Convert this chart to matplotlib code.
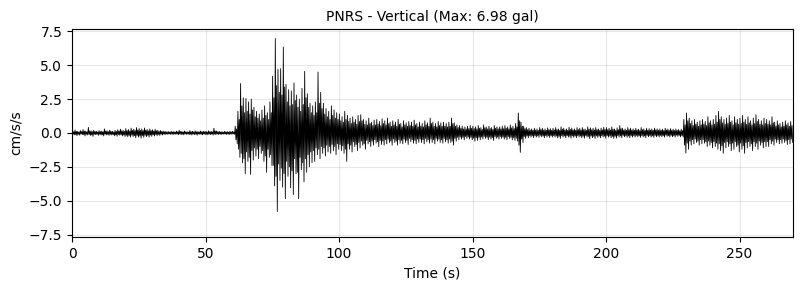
import numpy as np
import matplotlib
matplotlib.use("Agg")
import matplotlib.pyplot as plt

# Per-second upper peaks and lower troughs (cm/s/s)
upper = [
    0.15,0.22,0.12,0.18,0.25,0.14,0.42,0.16,0.2,0.13,
    0.18,0.14,0.3,0.16,0.21,0.12,0.19,0.24,0.28,0.2,
    0.32,0.25,0.36,0.28,0.4,0.33,0.3,0.37,0.26,0.3,
    0.24,0.28,0.2,0.18,0.15,0.12,0.1,0.13,0.11,0.14,
    0.2,0.12,0.15,0.1,0.18,0.13,0.16,0.12,0.15,0.14,
    0.13,0.16,0.12,0.35,0.15,0.12,0.1,0.12,0.11,0.13,
    0.12,0.5,1.6,3.65,2.6,2.55,2.3,2.5,1.9,1.6,
    1.4,1.7,2.0,1.5,2.3,4.2,6.98,4.7,4.75,6.35,
    3.6,3.2,3.1,3.7,2.8,2.5,3.3,4.55,2.9,2.2,
    2.0,2.3,4.5,3.0,2.2,1.8,1.6,2.0,1.7,1.5,
    1.4,1.2,1.6,1.3,1.1,1.2,1.0,1.3,1.35,1.0,
    0.9,1.1,0.8,0.95,1.0,0.85,1.05,0.9,1.1,0.8,
    0.9,0.8,1.0,0.7,0.9,0.75,0.85,0.8,0.95,0.7,
    0.8,0.7,0.9,0.75,1.1,0.8,0.7,0.85,0.75,0.8,
    0.7,0.8,1.1,0.75,0.6,0.55,0.5,0.45,0.5,0.55,
    0.5,0.45,0.55,0.4,0.6,0.45,0.5,0.4,0.55,0.45,
    0.45,0.5,0.55,0.45,0.6,0.5,0.7,1.48,0.8,0.5,
    0.4,0.35,0.3,0.35,0.3,0.4,0.35,0.3,0.38,0.32,
    0.35,0.4,0.3,0.45,0.35,0.3,0.42,0.36,0.3,0.4,
    0.35,0.4,0.3,0.45,0.38,0.35,0.4,0.3,0.36,0.42,
    0.4,0.35,0.45,0.3,0.38,0.55,0.35,0.3,0.4,0.35,
    0.3,0.35,0.28,0.4,0.3,0.35,0.32,0.3,0.36,0.3,
    0.3,0.28,0.35,0.3,0.32,0.28,0.3,0.25,0.28,1.0,
    1.48,1.1,0.9,1.0,0.8,0.9,1.0,0.85,1.2,0.9,
    1.0,1.3,1.6,1.2,1.0,1.1,1.3,0.9,1.2,1.0,
    1.1,1.3,1.0,1.2,0.9,1.1,1.35,1.0,0.9,1.1,
    1.0,0.9,1.2,0.8,0.9,0.7,0.8,0.9,0.75,0.85,
]
lower = [
    -0.14,-0.2,-0.16,-0.12,-0.22,-0.15,-0.18,-0.25,-0.13,-0.17,
    -0.16,-0.22,-0.14,-0.18,-0.15,-0.2,-0.24,-0.17,-0.22,-0.26,
    -0.28,-0.3,-0.26,-0.35,-0.3,-0.38,-0.32,-0.27,-0.3,-0.25,
    -0.22,-0.2,-0.18,-0.15,-0.13,-0.11,-0.1,-0.12,-0.1,-0.13,
    -0.12,-0.14,-0.1,-0.13,-0.15,-0.12,-0.16,-0.11,-0.14,-0.12,
    -0.14,-0.12,-0.15,-0.13,-0.11,-0.12,-0.1,-0.11,-0.12,-0.1,
    -0.1,-0.8,-1.8,-2.2,-3.0,-2.1,-3.05,-2.0,-1.7,-1.9,
    -1.5,-2.1,-2.9,-1.8,-2.4,-3.9,-5.8,-3.5,-4.0,-4.85,
    -3.2,-4.05,-4.55,-3.0,-4.85,-2.7,-3.6,-2.9,-2.5,-2.2,
    -2.1,-1.6,-1.9,-1.5,-1.7,-1.4,-1.5,-1.3,-1.6,-1.2,
    -1.3,-1.5,-2.1,-1.2,-1.4,-1.0,-1.3,-1.1,-0.9,-1.2,
    -0.8,-1.0,-0.9,-0.75,-1.0,-0.85,-0.9,-0.8,-0.7,-0.9,
    -0.7,-0.9,-0.75,-0.8,-0.7,-0.85,-0.65,-0.75,-0.8,-0.7,
    -0.7,-0.8,-0.65,-0.75,-0.7,-0.8,-0.6,-0.7,-0.75,-0.65,
    -0.75,-0.7,-0.9,-0.6,-0.5,-0.45,-0.5,-0.4,-0.45,-0.5,
    -0.6,-0.55,-0.5,-0.45,-0.4,-0.5,-0.45,-0.55,-0.4,-0.45,
    -0.4,-0.45,-0.5,-0.4,-0.5,-0.55,-0.6,-1.43,-0.7,-0.4,
    -0.35,-0.3,-0.35,-0.3,-0.32,-0.28,-0.35,-0.3,-0.33,-0.3,
    -0.3,-0.35,-0.4,-0.3,-0.35,-0.3,-0.38,-0.32,-0.35,-0.3,
    -0.35,-0.38,-0.3,-0.42,-0.35,-0.4,-0.32,-0.36,-0.3,-0.38,
    -0.3,-0.35,-0.4,-0.38,-0.3,-0.35,-0.28,-0.32,-0.35,-0.3,
    -0.3,-0.28,-0.32,-0.3,-0.35,-0.28,-0.3,-0.32,-0.28,-0.3,
    -0.28,-0.3,-0.25,-0.3,-0.28,-0.3,-0.25,-0.28,-0.3,-1.48,
    -1.2,-0.9,-0.8,-0.7,-0.9,-0.8,-0.75,-1.0,-0.9,-1.1,
    -1.0,-1.2,-1.3,-1.5,-1.1,-1.0,-1.3,-1.2,-1.0,-1.4,
    -1.2,-1.5,-1.1,-1.0,-1.3,-1.0,-1.2,-0.9,-1.1,-1.0,
    -1.0,-0.8,-0.9,-0.7,-0.8,-0.75,-0.7,-0.85,-0.8,-0.7,
]
# Per-second swings inside the dense band (cm/s/s)
inner_up = [
    0.1,0.12,0.08,0.11,0.14,0.09,0.15,0.1,0.12,0.08,
    0.11,0.09,0.15,0.1,0.13,0.08,0.12,0.14,0.16,0.12,
    0.18,0.15,0.2,0.17,0.22,0.19,0.18,0.21,0.16,0.18,
    0.14,0.16,0.12,0.11,0.09,0.08,0.07,0.08,0.07,0.09,
    0.11,0.08,0.09,0.07,0.1,0.08,0.09,0.08,0.09,0.09,
    0.08,0.1,0.08,0.15,0.09,0.08,0.07,0.08,0.07,0.08,
    0.08,0.3,1.0,2.0,1.5,1.6,1.4,1.7,1.2,1.1,
    0.9,1.1,1.3,1.0,1.5,2.6,3.5,3.0,2.8,3.4,
    2.3,2.0,2.1,2.4,1.9,1.6,2.1,2.6,1.9,1.5,
    1.3,1.5,2.2,1.8,1.4,1.2,1.0,1.3,1.1,1.0,
    0.9,0.8,1.0,0.85,0.7,0.8,0.65,0.85,0.9,0.65,
    0.6,0.7,0.55,0.6,0.65,0.55,0.7,0.6,0.7,0.5,
    0.6,0.5,0.65,0.45,0.6,0.5,0.55,0.5,0.6,0.45,
    0.5,0.45,0.6,0.5,0.7,0.5,0.45,0.55,0.5,0.5,
    0.45,0.5,0.7,0.5,0.4,0.35,0.3,0.3,0.32,0.35,
    0.32,0.3,0.35,0.26,0.38,0.3,0.32,0.26,0.35,0.3,
    0.3,0.32,0.35,0.3,0.38,0.32,0.45,0.9,0.5,0.32,
    0.25,0.22,0.2,0.22,0.2,0.25,0.22,0.2,0.24,0.2,
    0.22,0.25,0.2,0.28,0.22,0.2,0.26,0.23,0.2,0.25,
    0.22,0.25,0.2,0.28,0.24,0.22,0.25,0.2,0.23,0.26,
    0.25,0.22,0.28,0.2,0.24,0.32,0.22,0.2,0.25,0.22,
    0.2,0.22,0.18,0.25,0.2,0.22,0.21,0.2,0.23,0.2,
    0.2,0.18,0.22,0.2,0.21,0.18,0.2,0.16,0.18,0.6,
    0.9,0.7,0.55,0.65,0.5,0.6,0.65,0.55,0.75,0.6,
    0.65,0.8,1.0,0.75,0.65,0.7,0.8,0.6,0.75,0.65,
    0.7,0.8,0.65,0.75,0.6,0.7,0.85,0.65,0.6,0.7,
    0.65,0.6,0.75,0.5,0.6,0.45,0.5,0.6,0.5,0.55,
]
inner_dn = [
    -0.09,-0.12,-0.1,-0.08,-0.13,-0.1,-0.11,-0.14,-0.09,-0.1,
    -0.1,-0.13,-0.09,-0.11,-0.1,-0.12,-0.14,-0.11,-0.13,-0.15,
    -0.17,-0.18,-0.16,-0.2,-0.18,-0.22,-0.19,-0.17,-0.18,-0.15,
    -0.13,-0.12,-0.11,-0.09,-0.08,-0.07,-0.07,-0.08,-0.07,-0.08,
    -0.08,-0.09,-0.07,-0.08,-0.09,-0.08,-0.1,-0.07,-0.09,-0.08,
    -0.09,-0.08,-0.09,-0.08,-0.07,-0.08,-0.07,-0.07,-0.08,-0.07,
    -0.07,-0.5,-1.2,-1.5,-1.9,-1.4,-1.8,-1.3,-1.1,-1.2,
    -1.0,-1.3,-1.7,-1.2,-1.6,-2.4,-3.2,-2.3,-2.6,-3.0,
    -2.1,-2.5,-2.8,-1.9,-2.9,-1.8,-2.2,-1.9,-1.6,-1.4,
    -1.3,-1.1,-1.2,-1.0,-1.1,-0.9,-1.0,-0.85,-1.0,-0.8,
    -0.85,-0.95,-1.2,-0.8,-0.9,-0.65,-0.85,-0.7,-0.6,-0.8,
    -0.55,-0.65,-0.6,-0.5,-0.65,-0.55,-0.6,-0.5,-0.45,-0.6,
    -0.45,-0.6,-0.5,-0.55,-0.45,-0.55,-0.4,-0.5,-0.55,-0.45,
    -0.45,-0.5,-0.4,-0.5,-0.45,-0.5,-0.4,-0.45,-0.5,-0.4,
    -0.5,-0.45,-0.6,-0.4,-0.32,-0.3,-0.32,-0.26,-0.3,-0.32,
    -0.38,-0.35,-0.32,-0.3,-0.26,-0.32,-0.3,-0.35,-0.26,-0.3,
    -0.26,-0.3,-0.32,-0.26,-0.32,-0.35,-0.38,-0.9,-0.45,-0.26,
    -0.22,-0.2,-0.22,-0.2,-0.21,-0.18,-0.22,-0.2,-0.21,-0.2,
    -0.2,-0.22,-0.25,-0.2,-0.22,-0.2,-0.24,-0.21,-0.22,-0.2,
    -0.22,-0.24,-0.2,-0.26,-0.22,-0.25,-0.21,-0.23,-0.2,-0.24,
    -0.2,-0.22,-0.25,-0.24,-0.2,-0.22,-0.18,-0.21,-0.22,-0.2,
    -0.2,-0.18,-0.21,-0.2,-0.22,-0.18,-0.2,-0.21,-0.18,-0.2,
    -0.18,-0.2,-0.16,-0.2,-0.18,-0.2,-0.16,-0.18,-0.2,-0.9,
    -0.75,-0.6,-0.5,-0.45,-0.6,-0.5,-0.5,-0.65,-0.6,-0.7,
    -0.65,-0.75,-0.8,-0.95,-0.7,-0.65,-0.8,-0.75,-0.65,-0.9,
    -0.75,-0.95,-0.7,-0.65,-0.8,-0.65,-0.75,-0.6,-0.7,-0.65,
    -0.65,-0.5,-0.6,-0.45,-0.5,-0.5,-0.45,-0.55,-0.5,-0.45,
]
max_gal = 6.98

sec = np.arange(len(upper))
t = np.column_stack([sec + 0.125, sec + 0.375, sec + 0.625, sec + 0.875]).ravel()
v = np.column_stack([upper, inner_dn, inner_up, lower]).ravel()

fig = plt.figure(figsize=(8.02, 2.9), dpi=100)
ax = fig.add_axes([0.0898, 0.1828, 0.899, 0.7172])
ax.plot(t, v, color="black", linewidth=0.6)
ax.set_xlim(0, 270)
lim = max_gal * 1.1
ax.set_ylim(-lim, lim)
ax.set_yticks([-7.5, -5.0, -2.5, 0.0, 2.5, 5.0, 7.5])
ax.grid(True, alpha=0.3)
ax.set_title(f"PNRS - Vertical (Max: {max_gal:.2f} gal)", fontsize=10)
ax.set_xlabel("Time (s)")
ax.set_ylabel("cm/s/s")
fig.savefig("out.png", dpi=100)
